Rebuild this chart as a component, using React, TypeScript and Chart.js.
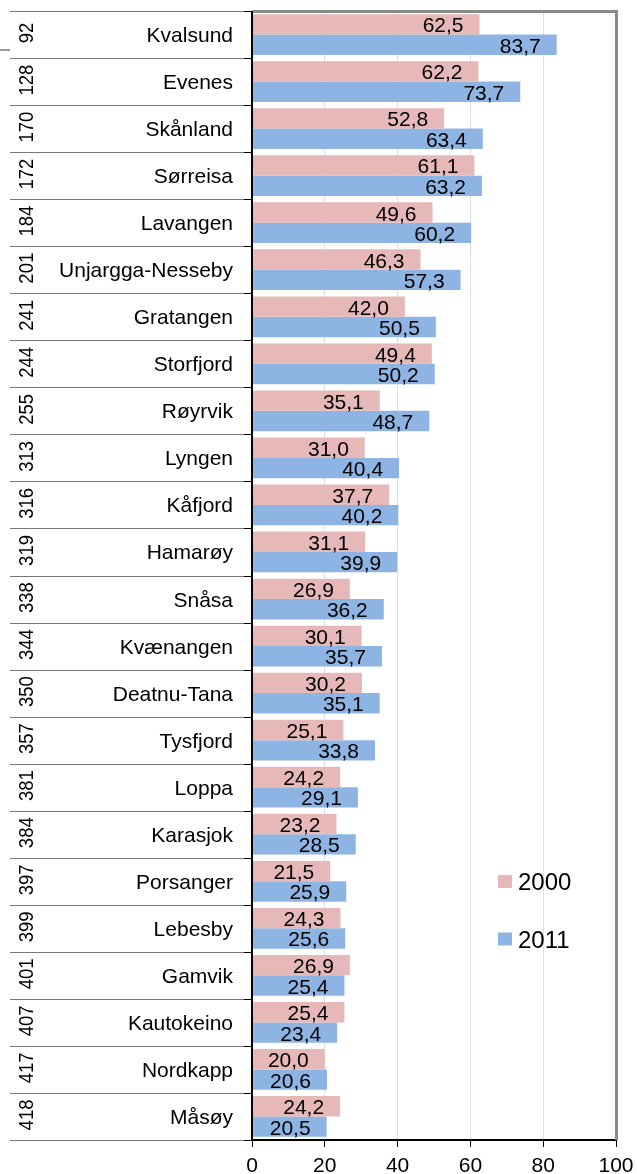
import React, { useEffect, useRef } from 'react';
import { Chart, registerables } from 'chart.js';

Chart.register(...registerables);

const ranks = [92, 128, 170, 172, 184, 201, 241, 244, 255, 313, 316, 319, 338, 344, 350, 357, 381, 384, 397, 399, 401, 407, 417, 418];
const names = ['Kvalsund', 'Evenes', 'Skånland', 'Sørreisa', 'Lavangen', 'Unjargga-Nesseby', 'Gratangen', 'Storfjord', 'Røyrvik', 'Lyngen', 'Kåfjord', 'Hamarøy', 'Snåsa', 'Kvænangen', 'Deatnu-Tana', 'Tysfjord', 'Loppa', 'Karasjok', 'Porsanger', 'Lebesby', 'Gamvik', 'Kautokeino', 'Nordkapp', 'Måsøy'];
const values2000 = [62.5, 62.2, 52.8, 61.1, 49.6, 46.3, 42.0, 49.4, 35.1, 31.0, 37.7, 31.1, 26.9, 30.1, 30.2, 25.1, 24.2, 23.2, 21.5, 24.3, 26.9, 25.4, 20.0, 24.2];
const values2011 = [83.7, 73.7, 63.4, 63.2, 60.2, 57.3, 50.5, 50.2, 48.7, 40.4, 40.2, 39.9, 36.2, 35.7, 35.1, 33.8, 29.1, 28.5, 25.9, 25.6, 25.4, 23.4, 20.6, 20.5];
const xTicks = [0, 20, 40, 60, 80, 100];
const seriesLabels = ['2000', '2011'];
const seriesColors = ['#E6B9B8', '#8EB4E3'];

const FONT = "'Liberation Sans', Arial, Helvetica, sans-serif";

export default function App() {
  const ref = useRef<HTMLCanvasElement>(null);

  useEffect(() => {
    const canvas = ref.current;
    if (!canvas) return;

    const decor = {
      id: 'decor',
      afterDatasetsDraw(chart: any) {
        const { ctx, chartArea: a, scales } = chart;
        const y = scales.y;
        ctx.save();

        // data labels
        ctx.font = `21px ${FONT}`;
        ctx.fillStyle = '#000';
        ctx.textAlign = 'right';
        ctx.textBaseline = 'alphabetic';
        chart.data.datasets.forEach((ds: any, di: number) => {
          const meta = chart.getDatasetMeta(di);
          meta.data.forEach((bar: any, i: number) => {
            const v = ds.data[i] as number;
            ctx.fillText(v.toFixed(1).replace('.', ','), bar.x - 16, bar.y + 8);
          });
        });

        const n = names.length;
        const h = (a.bottom - a.top) / n;

        // row separators
        const bounds: number[] = [];
        for (let i = 0; i < n; i++) bounds.push(y.getPixelForValue(i) - h / 2);
        bounds.push(y.getPixelForValue(n - 1) + h / 2);
        bounds.forEach((by) => {
          const yy = Math.round(by) + 0.5;
          ctx.strokeStyle = '#777';
          ctx.lineWidth = 1;
          ctx.beginPath();
          ctx.moveTo(10, yy);
          ctx.lineTo(a.left - 8, yy);
          ctx.stroke();
          ctx.strokeStyle = '#000';
          ctx.beginPath();
          ctx.moveTo(a.left - 8, yy);
          ctx.lineTo(a.left, yy);
          ctx.stroke();
        });

        // small gray mark at far left
        ctx.strokeStyle = '#999';
        ctx.lineWidth = 2;
        ctx.beginPath();
        ctx.moveTo(0, 50);
        ctx.lineTo(10, 50);
        ctx.stroke();

        // names
        ctx.fillStyle = '#000';
        ctx.font = `21px ${FONT}`;
        ctx.textAlign = 'right';
        ctx.textBaseline = 'alphabetic';
        names.forEach((nm, i) => {
          ctx.fillText(nm, a.left - 19, y.getPixelForValue(i) + 7.5);
        });

        // ranks rotated (slightly condensed along text direction)
        ranks.forEach((r, i) => {
          ctx.save();
          ctx.translate(32.5, y.getPixelForValue(i) - 1.5);
          ctx.rotate(-Math.PI / 2);
          ctx.scale(0.88, 1);
          ctx.textAlign = 'center';
          ctx.textBaseline = 'alphabetic';
          ctx.fillText(String(r), 0, 0);
          ctx.restore();
        });

        // frame: top and right gray
        ctx.strokeStyle = '#8a8a8a';
        ctx.lineWidth = 3;
        ctx.beginPath();
        ctx.moveTo(a.left, a.top + 0.5);
        ctx.lineTo(a.right + 2, a.top + 0.5);
        ctx.moveTo(a.right + 0.5, a.top - 1);
        ctx.lineTo(a.right + 0.5, a.bottom);
        ctx.stroke();

        // left axis black
        ctx.strokeStyle = '#000';
        ctx.lineWidth = 2;
        ctx.beginPath();
        ctx.moveTo(a.left, a.top);
        ctx.lineTo(a.left, a.bottom + 1);
        ctx.stroke();

        // legend
        const legendY = [881.5, 939];
        seriesLabels.forEach((lab, i) => {
          ctx.fillStyle = seriesColors[i];
          ctx.fillRect(498, legendY[i] - 6.5, 14, 13);
          ctx.fillStyle = '#000';
          ctx.font = `24px ${FONT}`;
          ctx.textAlign = 'left';
          ctx.textBaseline = 'alphabetic';
          ctx.fillText(lab, 518, legendY[i] + 8.5);
        });

        ctx.restore();
      },
    };

    const chart = new Chart(canvas, {
      type: 'bar',
      data: {
        labels: names,
        datasets: [
          { label: seriesLabels[0], data: values2000, backgroundColor: seriesColors[0], categoryPercentage: 0.866, barPercentage: 1 },
          { label: seriesLabels[1], data: values2011, backgroundColor: seriesColors[1], categoryPercentage: 0.866, barPercentage: 1 },
        ],
      },
      options: {
        indexAxis: 'y',
        animation: false,
        responsive: false,
        maintainAspectRatio: false,
        layout: { padding: { left: 252, right: 21, top: 11, bottom: 0 } },
        plugins: { legend: { display: false }, tooltip: { enabled: false } },
        scales: {
          y: { type: 'category', display: false, offset: true },
          x: {
            type: 'linear',
            min: 0,
            max: 100,
            afterBuildTicks: (s: any) => {
              s.ticks = xTicks.map((v) => ({ value: v }));
            },
            afterFit: (s: any) => {
              s.height = 34;
              s.paddingRight = 0;
              s.paddingLeft = 0;
            },
            grid: { color: '#DCDCF5', tickColor: '#000', tickLength: 7, lineWidth: 1 },
            border: { color: '#000', width: 2 },
            ticks: { font: { family: FONT, size: 21 }, color: '#000', padding: 7, maxRotation: 0 },
          },
        },
      },
      plugins: [decor],
    } as any);

    return () => chart.destroy();
  }, []);

  return (
    <div style={{ position: 'fixed', left: 0, top: 0, width: 637, height: 1174, background: '#fff' }}>
      <canvas ref={ref} width={637} height={1174} style={{ display: 'block', width: 637, height: 1174 }} />
    </div>
  );
}
